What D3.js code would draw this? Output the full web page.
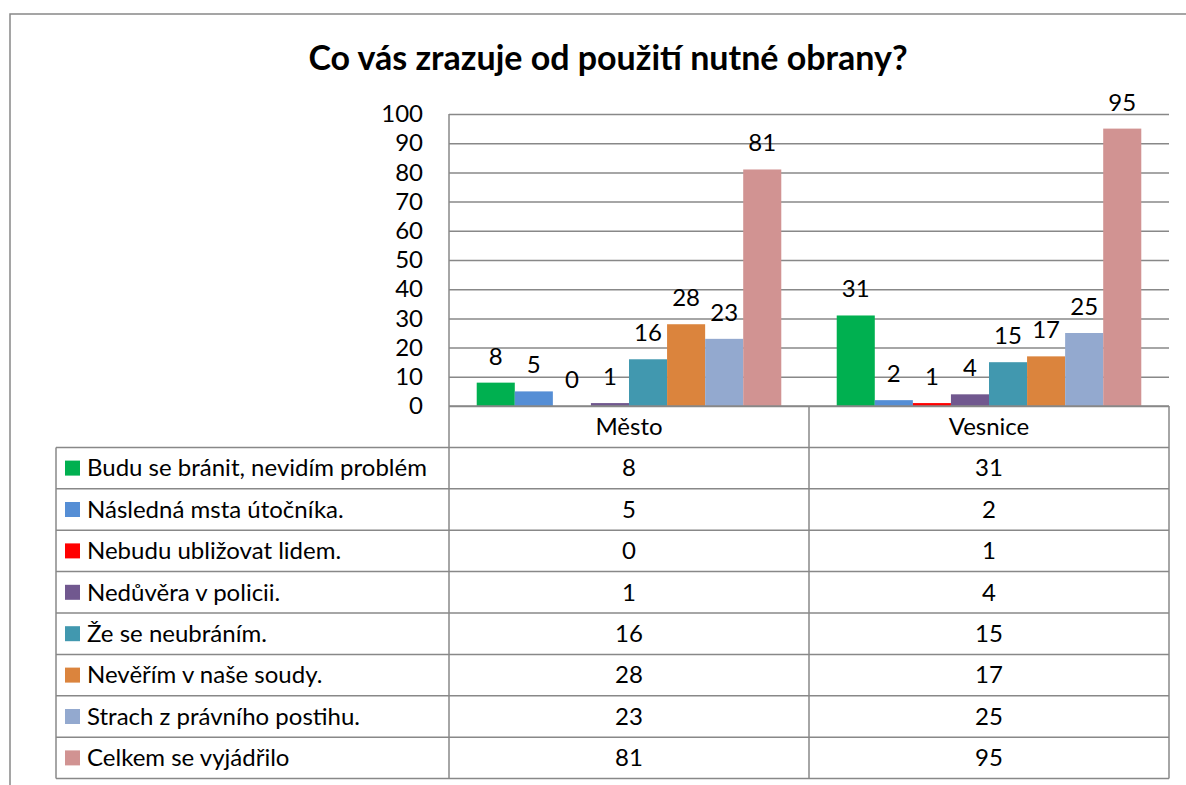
<!DOCTYPE html>
<html>
<head>
<meta charset="utf-8">
<script src="https://cdn.jsdelivr.net/npm/d3@7"></script>
<style>
  body { margin: 0; background: #fff; }
  text { font-family: Lato, "Open Sans", sans-serif; fill: #000; }
</style>
</head>
<body>
<svg id="chart" width="1186" height="785"></svg>
<script>
// Data
const categories = ['Město', 'Vesnice'];
const seriesNames = [
  'Budu se bránit, nevidím problém',
  'Následná msta útočníka.',
  'Nebudu ubližovat lidem.',
  'Nedůvěra v policii.',
  'Že se neubráním.',
  'Nevěřím v naše soudy.',
  'Strach z právního postihu.',
  'Celkem se vyjádřilo'
];
const mestoValues = [8, 5, 0, 1, 16, 28, 23, 81];
const vesniceValues = [31, 2, 1, 4, 15, 17, 25, 95];
const yTicks = [0, 10, 20, 30, 40, 50, 60, 70, 80, 90, 100];
const seriesColors = ['#00b050', '#558ed5', '#ff0000', '#71588f', '#4198af', '#db843d', '#93a9cf', '#d19392'];

const series = seriesNames.map((name, i) => ({
  name: name,
  color: seriesColors[i],
  values: [mestoValues[i], vesniceValues[i]]
}));

const svg = d3.select('#chart');
const gridColor = '#888888';
const fontSize = '24px';

const margin = { top: 114, left: 449, right: 1169, bottom: 406 };
const tableLeft = 56;
const rowH = 41.4;

// outer chart border
svg.append('rect')
  .attr('x', 10).attr('y', 14)
  .attr('width', 1300).attr('height', 900)
  .attr('fill', 'none')
  .attr('stroke', gridColor)
  .attr('stroke-width', 1.5);

// Title
svg.append('text')
  .attr('x', 608)
  .attr('y', 70)
  .attr('text-anchor', 'middle')
  .style('font-size', '34px')
  .style('font-weight', 'bold')
  .text('Co vás zrazuje od použití nutné obrany?');

const x0 = d3.scaleBand()
  .domain(categories)
  .range([margin.left, margin.right])
  .paddingInner(0)
  .paddingOuter(0);

const x1 = d3.scaleBand()
  .domain(d3.range(series.length))
  .range([x0.bandwidth() * 0.077, x0.bandwidth() * 0.923]);

const y = d3.scaleLinear()
  .domain([0, 100])
  .range([margin.bottom, margin.top]);

// Y axis with gridlines
const yAxis = svg.append('g')
  .attr('transform', `translate(${margin.left},0)`)
  .call(d3.axisLeft(y).tickValues(yTicks).tickSize(-(margin.right - margin.left)).tickPadding(26));

yAxis.select('.domain').remove();
yAxis.selectAll('.tick line')
  .attr('stroke', gridColor)
  .attr('stroke-width', 1.5);
yAxis.selectAll('.tick text')
  .style('font-family', 'Lato, sans-serif')
  .style('font-size', fontSize)
  .attr('fill', '#000');

// Bars
const groups = svg.append('g')
  .selectAll('g')
  .data(categories)
  .join('g')
  .attr('transform', d => `translate(${x0(d)},0)`);

groups.selectAll('rect')
  .data((c, ci) => series.map((s, si) => ({ si: si, value: s.values[ci], color: s.color })))
  .join('rect')
  .attr('x', d => x1(d.si))
  .attr('y', d => y(d.value))
  .attr('width', x1.bandwidth())
  .attr('height', d => y(0) - y(d.value))
  .attr('fill', d => d.color);

// Data labels
groups.selectAll('text')
  .data((c, ci) => series.map((s, si) => ({ si: si, value: s.values[ci] })))
  .join('text')
  .attr('x', d => x1(d.si) + x1.bandwidth() / 2)
  .attr('y', d => y(d.value) - 18)
  .attr('text-anchor', 'middle')
  .style('font-size', fontSize)
  .text(d => d.value);

// Data table
const table = svg.append('g');
const tableBottom = margin.bottom + rowH * (series.length + 1);

function line(xa, ya, xb, yb) {
  table.append('line')
    .attr('x1', xa).attr('y1', ya)
    .attr('x2', xb).attr('y2', yb)
    .attr('stroke', gridColor)
    .attr('stroke-width', 1.5);
}

// horizontal lines
line(margin.left, margin.bottom, margin.right, margin.bottom);
for (let i = 1; i <= series.length + 1; i++) {
  line(tableLeft, margin.bottom + rowH * i, margin.right, margin.bottom + rowH * i);
}
// vertical lines
line(margin.left, margin.top, margin.left, tableBottom);
line(tableLeft, margin.bottom + rowH, tableLeft, tableBottom);
categories.forEach(c => {
  line(x0(c) + x0.bandwidth(), margin.bottom, x0(c) + x0.bandwidth(), tableBottom);
});

// header
table.selectAll('.cat')
  .data(categories)
  .join('text')
  .attr('class', 'cat')
  .attr('x', d => x0(d) + x0.bandwidth() / 2)
  .attr('y', margin.bottom + rowH / 2)
  .attr('dy', '0.35em')
  .attr('text-anchor', 'middle')
  .style('font-size', fontSize)
  .text(d => d);

// rows
const rows = table.selectAll('.row')
  .data(series)
  .join('g')
  .attr('class', 'row')
  .attr('transform', (d, i) => `translate(0,${margin.bottom + rowH * (i + 1)})`);

rows.append('rect')
  .attr('x', 65)
  .attr('y', rowH / 2 - 7.5)
  .attr('width', 15)
  .attr('height', 15)
  .attr('fill', d => d.color);

rows.append('text')
  .attr('x', 87)
  .attr('y', rowH / 2)
  .attr('dy', '0.35em')
  .style('font-size', fontSize)
  .text(d => d.name);

rows.selectAll('.val')
  .data(d => d.values.map((v, ci) => ({ v: v, c: categories[ci] })))
  .join('text')
  .attr('class', 'val')
  .attr('x', d => x0(d.c) + x0.bandwidth() / 2)
  .attr('y', rowH / 2)
  .attr('dy', '0.35em')
  .attr('text-anchor', 'middle')
  .style('font-size', fontSize)
  .text(d => d.v);
</script>
</body>
</html>
